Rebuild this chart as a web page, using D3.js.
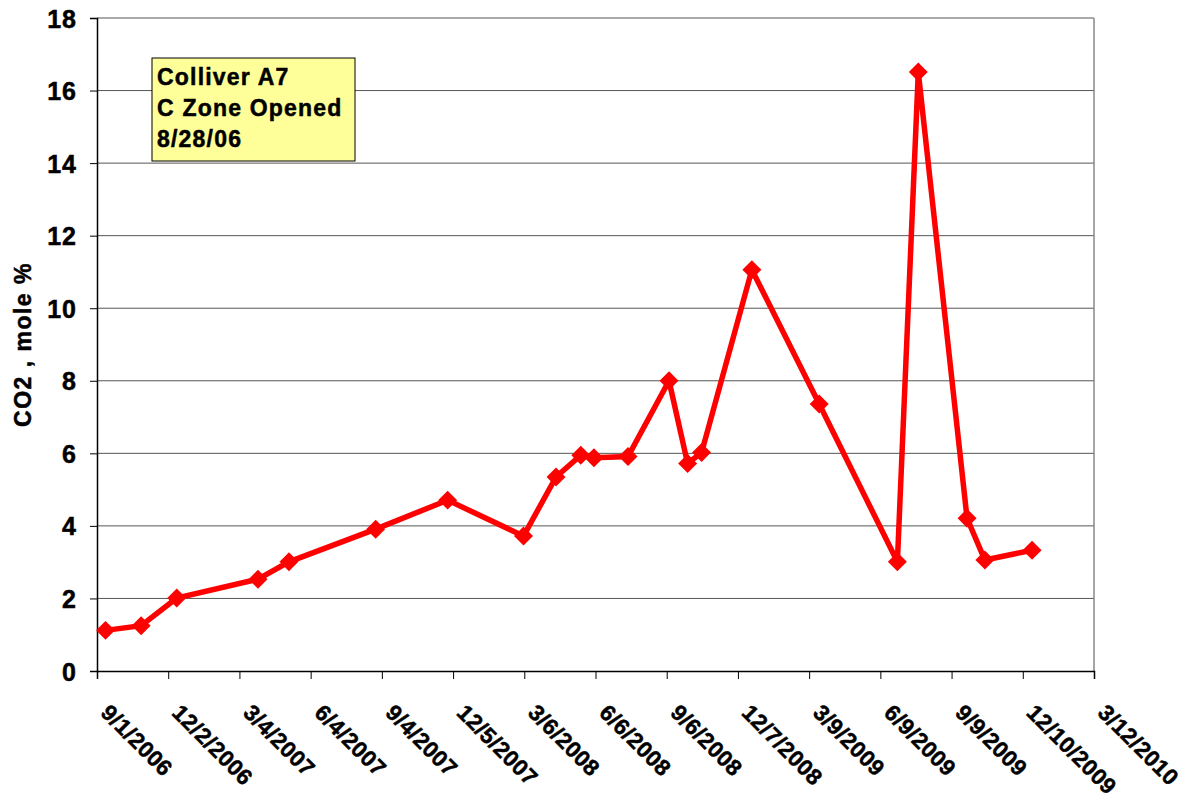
<!DOCTYPE html>
<html>
<head>
<meta charset="utf-8">
<script src="https://cdn.jsdelivr.net/npm/d3@7"></script>
<style>
  body { margin: 0; background: #fff; }
  text { font-family: "Liberation Sans", Arial, sans-serif; font-weight: bold; fill: #000; stroke: #000; stroke-width: 0.5px; }
</style>
</head>
<body>
<svg id="chart"></svg>
<script>
// sample dates and CO2 values
const sampleDates = ["9/12/2006", "10/28/2006", "12/13/2006", "3/28/2007", "5/7/2007",
    "8/27/2007", "11/28/2007", "3/5/2008", "4/16/2008", "5/18/2008", "6/4/2008",
    "7/18/2008", "9/9/2008", "10/3/2008", "10/21/2008", "12/25/2008", "3/22/2009",
    "7/1/2009", "7/28/2009", "9/29/2009", "10/22/2009", "12/22/2009"];
const co2Values = [1.12, 1.25, 2.01, 2.53, 3.01, 3.91, 4.71, 3.72, 5.35, 5.95, 5.88,
    5.91, 8.00, 5.72, 6.02, 11.06, 7.36, 3.01, 16.51, 4.21, 3.06, 3.33];

const xTickLabels = ["9/1/2006", "12/2/2006", "3/4/2007", "6/4/2007", "9/4/2007",
    "12/5/2007", "3/6/2008", "6/6/2008", "9/6/2008", "12/7/2008", "3/9/2009",
    "6/9/2009", "9/9/2009", "12/10/2009", "3/12/2010"];
const yTicks = [0, 2, 4, 6, 8, 10, 12, 14, 16, 18];
const noteLines = ["Colliver A7", "C Zone Opened", "8/28/06"];

const width = 1197, height = 803;
const margin = { left: 97, right: 103, top: 18, bottom: 132 };

const parse = d3.timeParse("%m/%d/%Y");
const data = sampleDates.map((d, i) => ({ date: parse(d), value: co2Values[i] }));
const tickDates = xTickLabels.map(parse);

const svg = d3.select("#chart").attr("width", width).attr("height", height);

const x = d3.scaleTime()
    .domain([tickDates[0], tickDates[tickDates.length - 1]])
    .range([margin.left, width - margin.right]);
const y = d3.scaleLinear()
    .domain([0, 18])
    .range([height - margin.bottom, margin.top]);

// gridlines
svg.append("g")
    .selectAll("line")
    .data(yTicks.filter(d => d > 0))
    .enter().append("line")
    .attr("x1", margin.left).attr("x2", width - margin.right)
    .attr("y1", d => y(d)).attr("y2", d => y(d))
    .attr("stroke", "#555").attr("stroke-width", 1);

// right border of plot area
svg.append("line")
    .attr("x1", width - margin.right).attr("x2", width - margin.right)
    .attr("y1", margin.top).attr("y2", height - margin.bottom)
    .attr("stroke", "#888").attr("stroke-width", 1.5);

// y axis
const yAxis = svg.append("g")
    .attr("transform", `translate(${margin.left},0)`)
    .call(d3.axisLeft(y).tickValues(yTicks).tickSize(7).tickFormat(d3.format("d")));
yAxis.select(".domain").attr("stroke", "#000").attr("stroke-width", 1.5);
yAxis.selectAll(".tick line").attr("stroke", "#000");
yAxis.selectAll(".tick text")
    .attr("x", -20)
    .attr("dy", "0.36em")
    .style("font-size", "25px")
    .style("font-family", "Liberation Sans, Arial, sans-serif")
    .style("font-weight", "bold")
    .style("letter-spacing", "1px");

// x axis
const xAxis = svg.append("g")
    .attr("transform", `translate(0,${height - margin.bottom})`)
    .call(d3.axisBottom(x).tickValues(tickDates).tickSize(8).tickFormat((d, i) => xTickLabels[i]));
xAxis.select(".domain").attr("stroke", "#000").attr("stroke-width", 1.5);
xAxis.selectAll(".tick line").attr("stroke", "#000");
xAxis.selectAll(".tick text")
    .attr("x", 0).attr("y", 0).attr("dy", 0)
    .attr("text-anchor", "start")
    .attr("transform", "translate(2,43) rotate(45)")
    .style("font-size", "22.5px")
    .style("font-family", "Liberation Sans, Arial, sans-serif")
    .style("font-weight", "bold")
    .style("letter-spacing", "0.3px");

// y axis title
svg.append("text")
    .attr("transform", `translate(31,${(y(0) + y(18)) / 2}) rotate(-90)`)
    .attr("text-anchor", "middle")
    .style("font-size", "23px")
    .style("letter-spacing", "1.5px")
    .text("CO2 , mole %");

// data line
const line = d3.line().x(d => x(d.date)).y(d => y(d.value));
svg.append("path")
    .datum(data)
    .attr("d", line)
    .attr("fill", "none")
    .attr("stroke", "#ff0000")
    .attr("stroke-width", 5.5)
    .attr("stroke-linejoin", "miter");

svg.append("g")
    .selectAll("path")
    .data(data)
    .enter().append("path")
    .attr("d", d3.symbol().type(d3.symbolSquare).size(180))
    .attr("transform", d => `translate(${x(d.date)},${y(d.value)}) rotate(45)`)
    .attr("fill", "#ff0000");

// annotation box
const note = svg.append("g").attr("transform", "translate(152,58)");
note.append("rect")
    .attr("width", 203).attr("height", 103)
    .attr("fill", "#ffff99")
    .attr("stroke", "#000").attr("stroke-width", 1);
note.selectAll("text")
    .data(noteLines)
    .enter().append("text")
    .attr("x", 5)
    .attr("y", (d, i) => 27 + i * 31)
    .style("font-size", "23px")
    .style("letter-spacing", "1.2px")
    .text(d => d);
</script>
</body>
</html>
